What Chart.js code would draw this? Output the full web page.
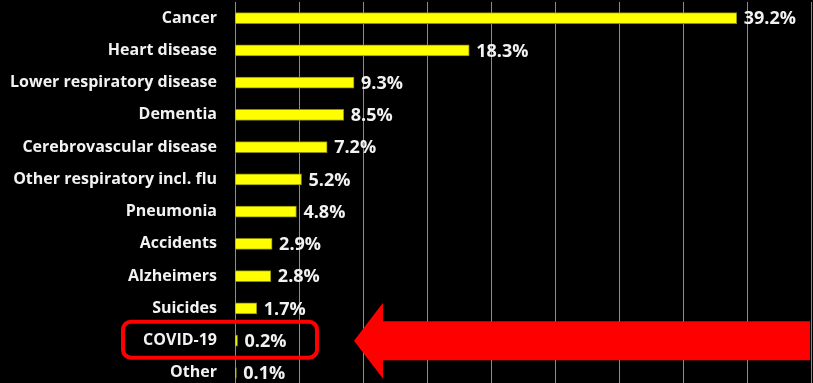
<!DOCTYPE html>
<html lang="en">
<head>
    <meta charset="UTF-8">
    <meta name="viewport" content="width=device-width, initial-scale=1.0">
    <title>Causes of death</title>
    <style>
        html, body { margin: 0; padding: 0; background: #000; overflow: hidden; }
        /* chart area runs a little past the bottom of the window, like the original */
        #wrap { position: relative; width: 813px; height: 389px; }
    </style>
    <script src="https://cdn.jsdelivr.net/npm/chart.js"></script>
</head>
<body>
    <div id="wrap"><canvas id="myChart"></canvas></div>
    <script>
        const causes = ['Cancer', 'Heart disease', 'Lower respiratory disease', 'Dementia',
            'Cerebrovascular disease', 'Other respiratory incl. flu', 'Pneumonia', 'Accidents',
            'Alzheimers', 'Suicides', 'COVID-19', 'Other'];
        const shares = [39.2, 18.3, 9.3, 8.5, 7.2, 5.2, 4.8, 2.9, 2.8, 1.7, 0.2, 0.1];
        const highlight = 'COVID-19';

        const FONT = '"Open Sans", Lato, sans-serif';

        // percentage labels at the end of each bar
        const valueLabels = {
            id: 'valueLabels',
            afterDatasetsDraw(chart) {
                const ctx = chart.ctx;
                const meta = chart.getDatasetMeta(0);
                ctx.save();
                ctx.fillStyle = '#f2f2f2';
                ctx.font = 'bold 18px ' + FONT;
                ctx.textBaseline = 'middle';
                ctx.textAlign = 'left';
                meta.data.forEach((bar, i) => {
                    ctx.fillText(shares[i].toFixed(1) + '%', bar.x + 7, bar.y + 1);
                });
                ctx.restore();
            }
        };

        // red box round the COVID-19 label and the big arrow pointing at it
        const callout = {
            id: 'callout',
            afterDraw(chart) {
                const ctx = chart.ctx;
                const area = chart.chartArea;
                const y = chart.scales.y.getPixelForValue(causes.indexOf(highlight));
                ctx.save();
                ctx.strokeStyle = '#ff0000';
                ctx.lineWidth = 4;
                ctx.beginPath();
                ctx.roundRect(area.left - 112, y - 19, 194, 36, 8);
                ctx.stroke();

                ctx.fillStyle = '#ff0000';
                const tip = area.left + 119, back = area.left + 148;
                ctx.beginPath();
                ctx.moveTo(tip, y);
                ctx.lineTo(back, y - 38);
                ctx.lineTo(back, y - 19.5);
                ctx.lineTo(area.right - 1, y - 19.5);
                ctx.lineTo(area.right - 1, y + 19.5);
                ctx.lineTo(back, y + 19.5);
                ctx.lineTo(back, y + 38);
                ctx.closePath();
                ctx.fill();
                ctx.restore();
            }
        };

        new Chart(document.getElementById('myChart'), {
            type: 'bar',
            data: {
                labels: causes,
                datasets: [{
                    data: shares,
                    backgroundColor: '#ffff00',
                    borderColor: '#8c8c00',
                    borderWidth: 1,
                    barThickness: 11
                }]
            },
            options: {
                indexAxis: 'y',
                responsive: true,
                maintainAspectRatio: false,
                animation: false,
                layout: { padding: { top: 2, right: 2, left: 0, bottom: 0 } },
                scales: {
                    x: {
                        min: 0,
                        max: 45,
                        ticks: { display: false, stepSize: 5 },
                        grid: { color: '#8c8c8c', lineWidth: 1, drawTicks: false },
                        border: { display: false },
                        afterFit(scale) { scale.height = 0; }
                    },
                    y: {
                        ticks: {
                            color: '#f2f2f2',
                            padding: 18,
                            font: { family: FONT, weight: 'bold', size: 16 }
                        },
                        grid: { display: false, drawTicks: false },
                        border: { display: true, color: '#8c8c8c', width: 1 },
                        afterFit(scale) {
                            // tick padding would otherwise also pad top and bottom
                            scale.width = 235;
                            scale.paddingTop = 0;
                            scale.paddingBottom = 0;
                        }
                    }
                },
                plugins: {
                    legend: { display: false },
                    tooltip: { enabled: false }
                }
            },
            plugins: [valueLabels, callout]
        });
    </script>
</body>
</html>
